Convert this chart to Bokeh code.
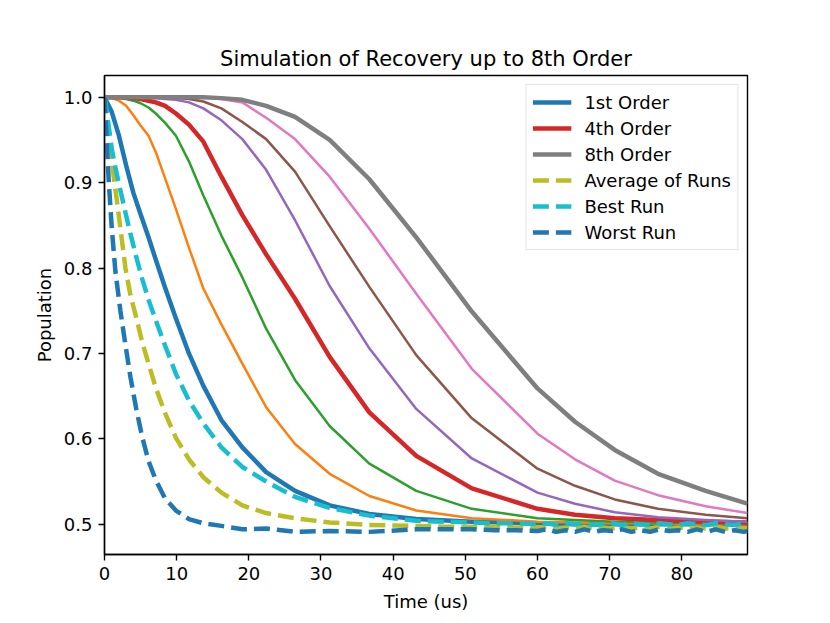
from bokeh.plotting import figure
from bokeh.models import Legend, LegendItem, Range1d, FixedTicker, NumeralTickFormatter
from bokeh.embed import file_html
from bokeh.resources import INLINE

# ---------------- data ----------------
T_SIM = [0, 1, 2, 3, 4, 5, 6.1, 7.1, 8.4, 9.9, 11.7, 13.7, 16.2, 19.1, 22.4, 26.4,
         31.2, 36.7, 43.2, 50.9, 60.0, 65.2, 70.7, 76.7, 83.3, 89.1]

order1 = [1.0, 0.983, 0.955, 0.920, 0.888, 0.863, 0.836, 0.810, 0.777, 0.741, 0.700, 0.662,
          0.622, 0.590, 0.561, 0.539, 0.522, 0.512, 0.506, 0.503, 0.501, 0.500, 0.500, 0.500,
          0.500, 0.500]
order2 = [1.0, 0.999, 0.996, 0.990, 0.979, 0.967, 0.955, 0.936, 0.905, 0.869, 0.824, 0.776,
          0.734, 0.688, 0.637, 0.594, 0.559, 0.533, 0.516, 0.507, 0.503, 0.502, 0.501, 0.501,
          0.500, 0.500]
order3 = [1.0, 1.0, 0.9995, 0.998, 0.996, 0.993, 0.988, 0.981, 0.970, 0.955, 0.925, 0.885,
          0.838, 0.789, 0.729, 0.669, 0.615, 0.571, 0.539, 0.518, 0.507, 0.505, 0.503, 0.502,
          0.501, 0.501]
order4 = [1.0, 1.0, 1.0, 0.9998, 0.999, 0.998, 0.996, 0.994, 0.990, 0.981, 0.968, 0.948,
          0.907, 0.862, 0.816, 0.764, 0.696, 0.631, 0.580, 0.542, 0.518, 0.511, 0.507, 0.505,
          0.503, 0.502]
order5 = [1.0, 1.0, 1.0, 1.0, 1.0, 1.0, 0.9995, 0.999, 0.998, 0.997, 0.994, 0.987,
          0.973, 0.951, 0.915, 0.856, 0.779, 0.706, 0.635, 0.577, 0.537, 0.524, 0.514, 0.508,
          0.505, 0.503]
order6 = [1.0, 1.0, 1.0, 1.0, 1.0, 1.0, 1.0, 1.0, 1.0, 0.9995, 0.998, 0.995,
          0.987, 0.971, 0.951, 0.913, 0.849, 0.778, 0.698, 0.624, 0.565, 0.545, 0.529, 0.518,
          0.511, 0.507]
order7 = [1.0, 1.0, 1.0, 1.0, 1.0, 1.0, 1.0, 1.0, 1.0, 1.0, 1.0, 0.9995,
          0.998, 0.994, 0.976, 0.951, 0.907, 0.846, 0.770, 0.682, 0.606, 0.576, 0.551, 0.534,
          0.521, 0.513]
order8 = [1.0, 1.0, 1.0, 1.0, 1.0, 1.0, 1.0, 1.0, 1.0, 1.0, 1.0, 1.0,
          0.999, 0.997, 0.990, 0.977, 0.950, 0.904, 0.836, 0.749, 0.659, 0.620, 0.587, 0.559,
          0.539, 0.524]

T_RUN = [0, 0.3, 0.6, 1.0, 1.5, 2.2, 2.9, 3.6, 4.4, 5.2, 6.1, 7.1, 8.4, 9.9, 11.7, 13.7,
         16.2, 19.1, 22.4, 26.4, 31.2, 36.7, 43.2, 47, 50.9, 54, 57, 60,
         61.3, 62.6, 63.9, 65.2, 66.5, 67.8, 69.1, 70.4, 71.7, 73.0, 74.3, 75.6,
         76.9, 78.2, 79.5, 80.8, 82.1, 83.4, 84.7, 86.0, 87.3, 88.6, 89.9]

avg_run = [1.0, 0.975, 0.95, 0.925, 0.893, 0.847, 0.800, 0.768, 0.742, 0.714, 0.688, 0.660,
           0.630, 0.601, 0.576, 0.555, 0.537, 0.522, 0.513, 0.507, 0.502, 0.499, 0.498, 0.497,
           0.497, 0.497, 0.496, 0.496,
           0.497, 0.495, 0.496, 0.495, 0.497, 0.495, 0.496, 0.495, 0.497, 0.495, 0.496, 0.495,
           0.497, 0.495, 0.496, 0.495, 0.496, 0.495, 0.497, 0.495, 0.496, 0.495, 0.496]
best_run = [1.0, 0.985, 0.965, 0.940, 0.918, 0.891, 0.865, 0.840, 0.813, 0.788, 0.763, 0.739,
            0.709, 0.676, 0.645, 0.618, 0.590, 0.567, 0.550, 0.532, 0.519, 0.510, 0.504, 0.503,
            0.502, 0.501, 0.501, 0.500,
            0.501, 0.499, 0.501, 0.500, 0.501, 0.499, 0.500, 0.501, 0.499, 0.501, 0.500, 0.499,
            0.501, 0.500, 0.499, 0.501, 0.500, 0.499, 0.501, 0.500, 0.499, 0.501, 0.500]
worst_run = [1.0, 0.95, 0.90, 0.848, 0.797, 0.750, 0.710, 0.672, 0.635, 0.603, 0.574, 0.552,
             0.530, 0.516, 0.506, 0.501, 0.498, 0.494, 0.495, 0.491, 0.492, 0.491, 0.494, 0.494,
             0.494, 0.493, 0.493, 0.492,
             0.494, 0.491, 0.493, 0.491, 0.494, 0.491, 0.493, 0.492, 0.494, 0.491, 0.493, 0.491,
             0.494, 0.492, 0.493, 0.491, 0.494, 0.491, 0.494, 0.491, 0.493, 0.491, 0.494]

X_TICKS = [0, 10, 20, 30, 40, 50, 60, 70, 80]
Y_TICKS = [0.5, 0.6, 0.7, 0.8, 0.9, 1.0]

TITLE = "Simulation of Recovery up to 8th Order"
X_LABEL = "Time (us)"
Y_LABEL = "Population"

# ---------------- figure ----------------
FONT = "DejaVu Sans"
p = figure(frame_width=643, frame_height=479,
           min_border_left=104, min_border_right=75, min_border_top=75, min_border_bottom=62,
           x_range=Range1d(0, 89.1), y_range=Range1d(0.4645, 1.0255),
           output_backend="svg", toolbar_location=None, title=TITLE)
p.background_fill_color = "white"
p.border_fill_color = "white"
p.outline_line_color = "black"
p.outline_line_width = 1.4
p.xgrid.visible = False
p.ygrid.visible = False

p.title.text_font = FONT
p.title.text_font_size = "21px"
p.title.text_font_style = "normal"
p.title.align = "center"
p.title.text_color = "black"
p.title.standoff = 9

for ax in (p.xaxis[0], p.yaxis[0]):
    ax.axis_line_width = 1.4
    ax.axis_line_color = "black"
    ax.major_tick_out = 6
    ax.major_tick_in = 0
    ax.major_tick_line_width = 1.4
    ax.minor_tick_line_color = None
    ax.major_label_text_font = FONT
    ax.major_label_text_font_size = "18px"
    ax.major_label_text_color = "black"
    ax.major_label_standoff = 6
    ax.axis_label_text_font = FONT
    ax.axis_label_text_font_size = "18px"
    ax.axis_label_text_font_style = "normal"
    ax.axis_label_text_color = "black"

p.xaxis[0].ticker = FixedTicker(ticks=X_TICKS)
p.yaxis[0].ticker = FixedTicker(ticks=Y_TICKS)
p.yaxis[0].formatter = NumeralTickFormatter(format="0.0")
p.xaxis[0].axis_label = X_LABEL
p.yaxis[0].axis_label = Y_LABEL
p.xaxis[0].axis_label_standoff = 8
p.yaxis[0].axis_label_standoff = 6

THICK = 4.5
THIN = 2.5
DASH = "16 7"

r1 = p.line(T_SIM, order1, line_color="#1f77b4", line_width=THICK, line_join="round")
r2 = p.line(T_SIM, order2, line_color="#ff7f0e", line_width=THIN, line_join="round")
r3 = p.line(T_SIM, order3, line_color="#2ca02c", line_width=THIN, line_join="round")
r4 = p.line(T_SIM, order4, line_color="#d62728", line_width=THICK, line_join="round")
r5 = p.line(T_SIM, order5, line_color="#9467bd", line_width=THIN, line_join="round")
r6 = p.line(T_SIM, order6, line_color="#8c564b", line_width=THIN, line_join="round")
r7 = p.line(T_SIM, order7, line_color="#e377c2", line_width=THIN, line_join="round")
r8 = p.line(T_SIM, order8, line_color="#7f7f7f", line_width=THICK, line_join="round")
ra = p.line(T_RUN, avg_run, line_color="#bcbd22", line_width=THICK, line_dash=DASH)
rb = p.line(T_RUN, best_run, line_color="#17becf", line_width=THICK, line_dash=DASH)
rw = p.line(T_RUN, worst_run, line_color="#1f77b4", line_width=THICK, line_dash=DASH)

legend = Legend(items=[
    LegendItem(label="1st Order", renderers=[r1]),
    LegendItem(label="4th Order", renderers=[r4]),
    LegendItem(label="8th Order", renderers=[r8]),
    LegendItem(label="Average of Runs", renderers=[ra]),
    LegendItem(label="Best Run", renderers=[rb]),
    LegendItem(label="Worst Run", renderers=[rw]),
], location="top_right")
legend.margin = 9
legend.padding = 6
legend.spacing = 4
legend.glyph_width = 39
legend.glyph_height = 22
legend.label_height = 22
legend.label_standoff = 13
legend.label_text_font = FONT
legend.label_text_font_size = "18px"
legend.label_text_color = "black"
legend.border_line_color = "#cccccc"
legend.border_line_width = 1.4
legend.background_fill_color = "white"
legend.background_fill_alpha = 0.8
p.add_layout(legend)

open("out.html", "w").write(file_html(p, INLINE))
